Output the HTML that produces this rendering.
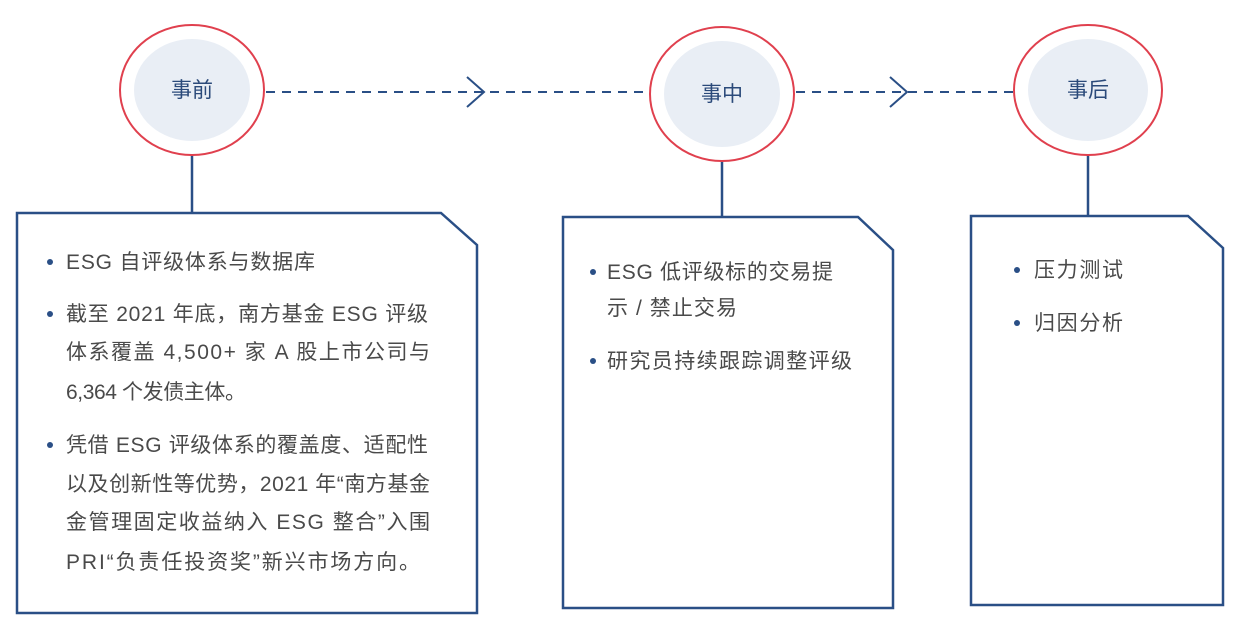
<!DOCTYPE html>
<html><head><meta charset="utf-8"><style>
html,body{margin:0;padding:0;background:#fff;}
svg{display:block;}
text{font-family:"Liberation Sans","Noto Sans CJK SC",sans-serif;font-size:21px;fill:#4a4a4a;}
.t{fill:#2b4a7a;font-size:21px;}
</style></head><body>
<svg width="1239" height="618" viewBox="0 0 1239 618">
<g fill="none" stroke="#2a4f86" stroke-width="2.5">
<line x1="192" y1="154" x2="192" y2="213"/>
<line x1="722" y1="162" x2="722" y2="217"/>
<line x1="1088" y1="154" x2="1088" y2="216"/>
<path d="M17 213 H441 L477 245 V613 H17 Z"/>
<path d="M563 217 H858 L893 250 V608 H563 Z"/>
<path d="M971 216 H1188 L1223 248 V605 H971 Z"/>
<g stroke-width="2" stroke-dasharray="9 7">
<line x1="266" y1="92" x2="648" y2="92"/>
<line x1="796" y1="92" x2="1014" y2="92"/>
</g>
<path d="M467 77 L484 92 L467 107" stroke-width="2"/>
<path d="M890 77 L907 92 L890 107" stroke-width="2"/>
</g>
<g stroke="#e0404e" stroke-width="2" fill="#fff">
<ellipse cx="192" cy="90" rx="72" ry="65"/>
<ellipse cx="722" cy="94" rx="72" ry="67"/>
<ellipse cx="1088" cy="90" rx="74" ry="65"/>
</g>
<g fill="#e9eef5">
<ellipse cx="192" cy="90" rx="58" ry="51"/>
<ellipse cx="722" cy="94" rx="58" ry="53"/>
<ellipse cx="1088" cy="90" rx="60" ry="51"/>
</g>
<text class="t" x="192" y="97" text-anchor="middle">事前</text>
<text class="t" x="722" y="101" text-anchor="middle">事中</text>
<text class="t" x="1088" y="97" text-anchor="middle">事后</text>
<g fill="#2a4f86">
<circle cx="50" cy="262" r="3"/><circle cx="50" cy="314" r="3"/><circle cx="50" cy="445" r="3"/>
<circle cx="593" cy="272" r="3"/><circle cx="593" cy="361" r="3"/>
<circle cx="1017" cy="270" r="3"/><circle cx="1017" cy="323" r="3"/>
</g>
<text x="66" y="269" textLength="249" lengthAdjust="spacing">ESG 自评级体系与数据库</text>
<text x="66" y="321" textLength="362" lengthAdjust="spacing">截至 2021 年底，南方基金 ESG 评级</text>
<text x="66" y="359" textLength="364" lengthAdjust="spacing">体系覆盖 4,500+ 家 A 股上市公司与</text>
<text x="66" y="399" textLength="180" lengthAdjust="spacing">6,364 个发债主体。</text>
<text x="66" y="452" textLength="362" lengthAdjust="spacing">凭借 ESG 评级体系的覆盖度、适配性</text>
<text x="66" y="491" textLength="364" lengthAdjust="spacing">以及创新性等优势，2021 年“南方基金</text>
<text x="66" y="529" textLength="364" lengthAdjust="spacing">金管理固定收益纳入 ESG 整合”入围</text>
<text x="66" y="569" textLength="354" lengthAdjust="spacing">PRI“负责任投资奖”新兴市场方向。</text>
<text x="607" y="279" textLength="226" lengthAdjust="spacing">ESG 低评级标的交易提</text>
<text x="607" y="315" textLength="130" lengthAdjust="spacing">示 / 禁止交易</text>
<text x="607" y="368" textLength="245" lengthAdjust="spacing">研究员持续跟踪调整评级</text>
<text x="1034" y="277" textLength="89" lengthAdjust="spacing">压力测试</text>
<text x="1034" y="330" textLength="89" lengthAdjust="spacing">归因分析</text>
</svg>
</body></html>
